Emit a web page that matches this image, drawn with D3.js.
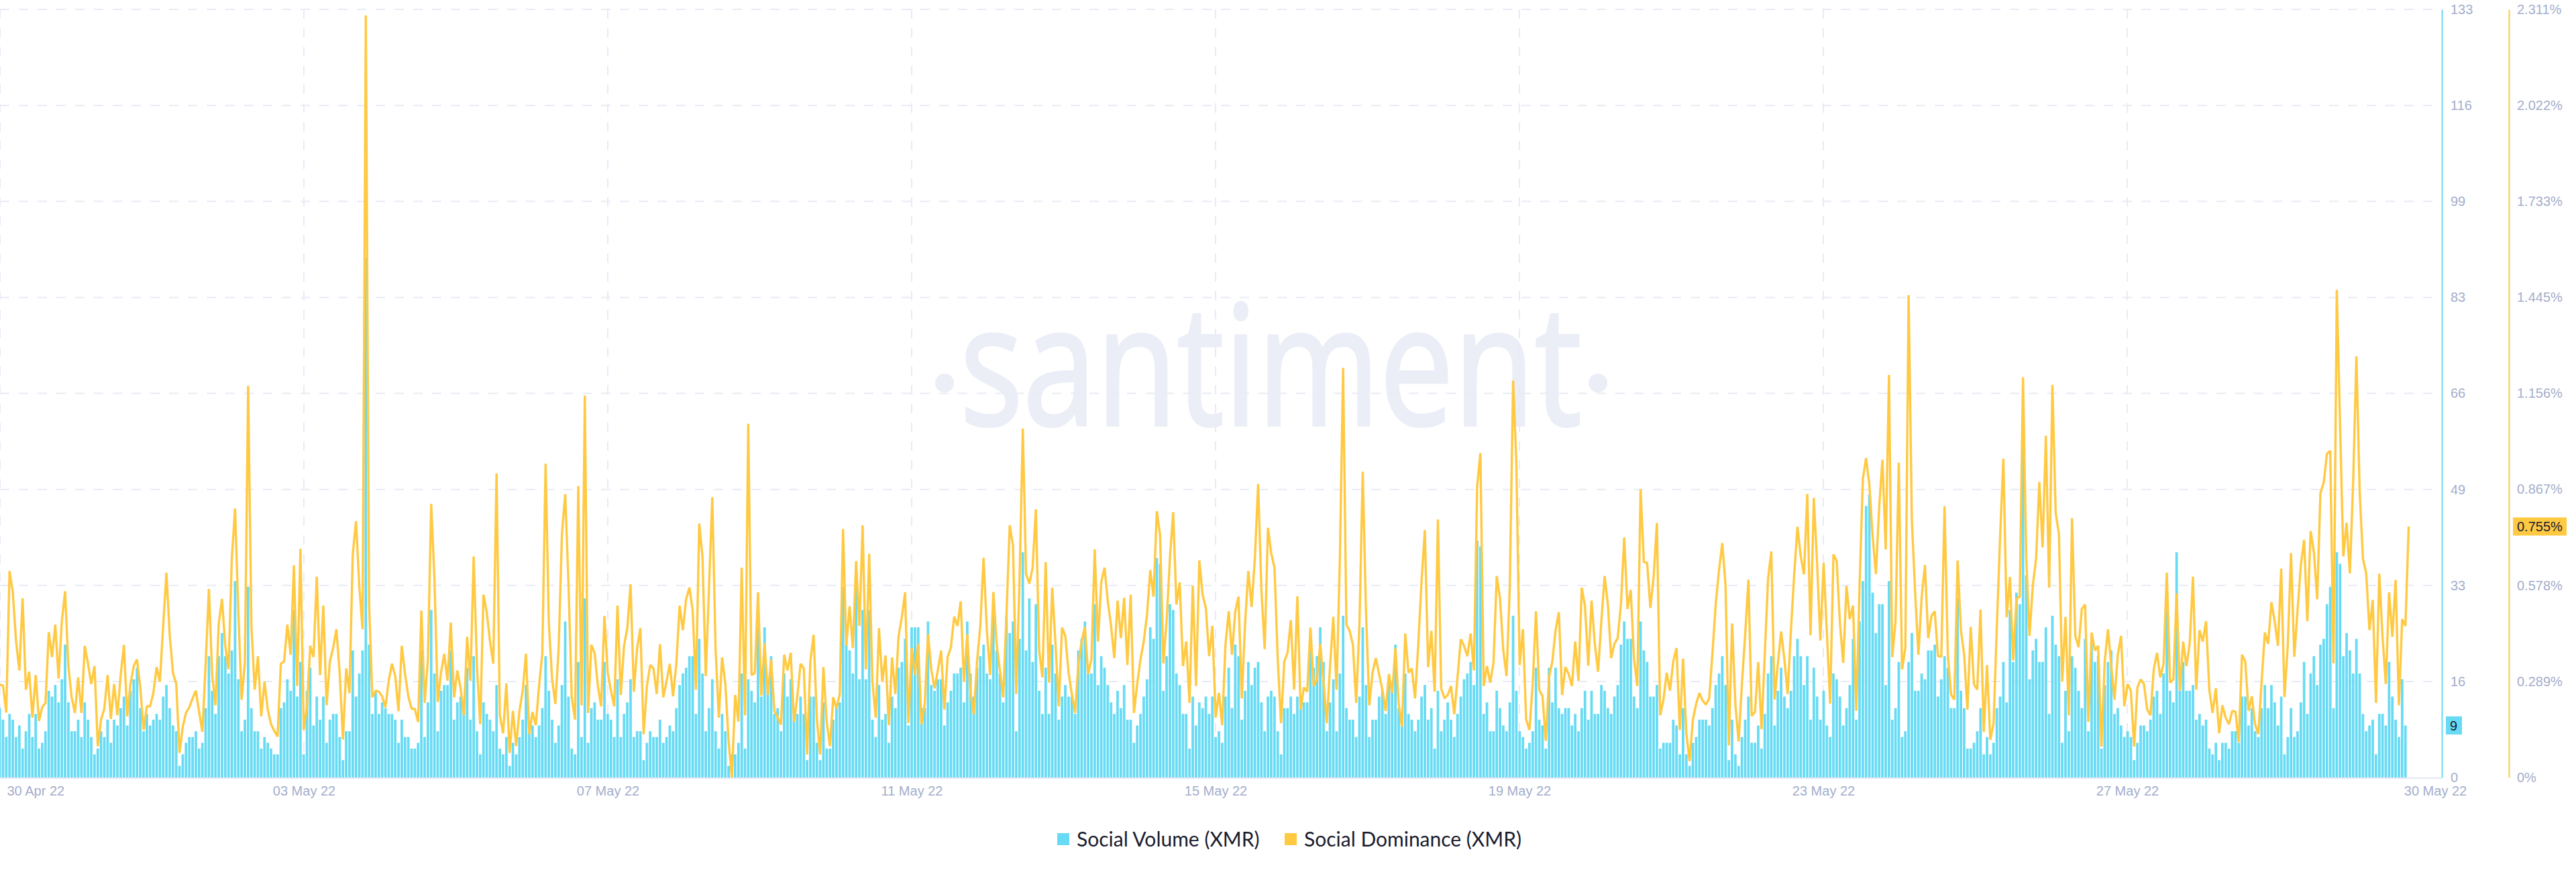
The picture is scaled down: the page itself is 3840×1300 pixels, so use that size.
<!DOCTYPE html>
<html lang="en">
<head>
	<meta charset="utf-8">
	<title>Social Volume and Social Dominance (XMR)</title>
	<script src="https://d3js.org/d3.v7.min.js"></script>
	<style>
		html, body { margin: 0; padding: 0; background: #fff; }
		svg { display: block; }
		.tick-text text, .tick-text-x text { font-family: "Liberation Sans", Arial, sans-serif; font-size: 20px; fill: #a4aecb; }
		.legend-label { font-family: Lato, sans-serif; font-size: 30px; fill: #1a1c2e; }
	</style>
</head>
<body>
	<div id="svg_container"></div>
	<script>
		// hourly values
		var socialVolume = [
			12,10,7,11,10,7,9,5,8,11,7,11,5,6,8,15,14,16,13,17,23,13,8,8,10,7,13,10,7,4,
			5,8,7,10,6,10,9,12,14,9,15,17,19,12,8,11,9,10,11,10,14,16,12,9,8,2,4,6,7,7,
			8,5,6,12,21,15,11,21,25,21,18,22,34,17,8,10,33,12,8,8,5,7,6,5,4,4,12,13,17,15,
			29,14,20,4,15,19,9,14,10,14,6,10,11,11,7,3,8,8,22,14,18,22,90,23,11,15,11,13,12,11,
			11,10,6,10,7,7,5,5,6,22,7,13,
			29,18,8,15,16,16,22,10,13,14,13,19,10,21,8,4,13,11,10,8,16,5,4,7,2,6,4,7,10,16,
			8,9,7,9,12,21,15,10,6,9,16,27,14,5,4,20,7,31,6,12,13,10,10,20,11,10,7,17,7,11,
			13,17,7,8,8,3,6,8,7,7,10,6,7,9,8,12,16,18,19,21,21,11,24,18,8,12,17,8,5,11,
			8,2,4,4,6,18,5,17,15,13,26,14,26,15,21,11,12,8,18,14,17,10,11,14,11,3,14,14,6,3,13,5,5,
			10,12,13,33,23,22,18,33,17,29,17,29,10,7,16,10,11,6,14,12,19,20,24,9,26,26,26,12,12,27,
			16,15,17,17,9,13,15,18,18,19,13,27,18,14,19,21,23,18,17,28,22,18,13,28,25,27,8,24,39,22,
			31,20,30,15,11,19,11,23,18,10,14,16,14,14,11,22,24,27,18,18,30,16,21,19,16,13,11,15,12,16,
			10,10,6,9,11,14,17,26,24,38,37,15,21,30,29,18,16,11,11,5,14,9,13,12,14,11,14,7,8,6,14,19,12,
			23,21,10,15,20,16,19,20,13,8,14,15,14,8,4,12,12,14,11,14,12,13,13,23,19,21,26,20,8,13,
			17,8,18,28,12,10,10,7,14,26,16,7,10,10,14,15,11,17,16,23,12,9,18,11,10,8,10,14,16,10,
			12,5,15,8,10,13,10,7,11,14,17,18,20,16,41,40,11,13,8,8,15,12,9,8,13,28,15,8,7,5,
			6,8,19,10,9,5,19,13,19,12,11,12,12,9,11,8,12,15,10,15,11,11,16,15,12,11,14,16,23,27,24,24,14,12,
			27,22,20,14,14,16,5,6,6,6,10,9,4,12,4,2,6,7,10,10,10,9,12,16,18,21,16,3,10,4,
			2,7,10,14,6,6,9,5,11,18,21,9,15,19,14,12,15,21,24,21,16,21,10,19,14,10,15,9,7,18,
			17,14,9,12,16,24,10,27,34,47,49,32,25,30,30,16,34,10,12,20,7,8,20,25,15,15,18,17,22,22,
			23,14,17,21,19,12,12,31,15,12,5,5,6,8,12,4,7,4,6,12,14,20,13,29,20,32,30,59,35,17,22,24,20,
			20,26,11,28,23,21,6,15,8,21,19,15,12,24,8,24,20,21,5,16,20,22,11,12,9,7,8,7,3,6,
			9,9,8,10,14,15,11,18,29,15,13,39,15,20,15,15,16,10,11,9,10,5,4,6,3,6,6,5,8,8,
			6,14,14,9,12,8,7,12,16,12,16,13,9,14,4,7,12,7,8,13,20,11,18,21,16,23,24,30,33,12,
			39,37,21,25,22,18,24,18,11,8,9,10,4,11,11,9,20,14,10,7,17,9
		];

		var socialDominance = [
			.280,.276,.195,.621,.557,.409,.322,.539,.264,.318,.180,.308,.170,.211,.224,.437,.362,.460,.298,.470,
			.560,.335,.241,.194,.301,.194,.396,.342,.281,.335,.094,.174,.207,.308,.176,.281,.187,.308,.399,.184,
			.281,.335,.355,.271,.143,.214,.214,.254,.332,.288,.456,.616,.429,.315,.281,.074,.153,.195,.211,.238,
			.261,.197,.137,.342,.567,.308,.217,.463,.537,.396,.325,.658,.809,.497,.234,.345,1.178,.456,.264,.365,
			.184,.288,.204,.160,.140,.123,.342,.349,.460,.369,.638,.275,.688,.143,.214,.396,.362,.604,.308,.517,
			.217,.349,.389,.446,.315,.114,.328,.254,.671,.771,.577,.446,2.293,.523,.241,.261,.258,.244,.211,.291,
			.342,.305,.199,.396,.311,.244,.207,.206,.167,.502,.224,.355,
			.823,.597,.227,.315,.372,.291,.466,.241,.322,.268,.187,.423,.291,.665,.335,.160,.550,.497,.409,.342,
			.915,.187,.133,.283,.074,.200,.094,.200,.261,.372,.130,.197,.157,.275,.372,.944,.463,.295,.221,.389,
			.732,.852,.584,.241,.174,.877,.217,1.149,.194,.399,.375,.275,.214,.486,.315,.261,.214,.517,.248,.396,
			.449,.581,.258,.389,.449,.130,.275,.338,.328,.251,.401,.241,.288,.342,.244,.342,.517,.443,.537,.571,
			.503,.264,.764,.665,.305,.571,.843,.389,.180,.361,.281,.106,0,.248,.168,.631,.187,1.064,.308,.314,
			.557,.246,.404,.248,.355,.200,.180,.159,.369,.322,.375,.167,.241,.342,.328,.069,.349,.429,.174,.069,
			.332,.167,.094,
			.241,.207,.251,.747,.396,.515,.389,.651,.456,.759,.325,.673,.288,.180,.449,.288,.367,.157,.361,.251,
			.426,.483,.557,.163,.389,.308,.402,.160,.221,.431,.325,.268,.322,.382,.204,.362,.392,.484,.456,.530,
			.288,.431,.254,.190,.349,.456,.661,.443,.308,.558,.402,.322,.241,.490,.759,.698,.251,.591,1.050,.612,
			.583,.631,.807,.382,.301,.648,.285,.571,.402,.214,.451,.426,.315,.251,.194,.342,.409,.453,.311,.355,
			.686,.409,.587,.631,.530,.456,.359,.532,.419,.540,.338,.550,.194,.281,.355,.409,.490,.624,.544,.801,
			.729,.343,.470,.658,.798,.520,.587,.335,.409,.224,.577,.275,.653,.550,.510,.365,.456,.180,.254,.157,
			.399,.500,.369,
			.500,.544,.238,.463,.621,.513,.658,.883,.564,.386,.751,.675,.631,.355,.163,.349,.375,.473,.264,.545,
			.204,.271,.258,.451,.275,.295,.402,.288,.163,.335,.483,.264,.658,1.232,.460,.441,.399,.224,.463,.920,
			.497,.217,.315,.359,.311,.264,.200,.311,.254,.389,.221,.153,.433,.315,.328,.238,.402,.591,.744,.332,
			.441,.258,.776,.268,.238,.248,.275,.190,.301,.416,.396,.365,.433,.322,.877,.976,.275,.335,.285,.345,
			.606,.537,.382,.305,.577,1.194,.947,.338,.446,.174,.143,.281,.500,.264,.244,.110,.301,.349,.443,.497,
			.248,.332,.311,.275,.409,.291,.571,.515,.336,.532,.402,.318,.470,.606,.520,.359,.402,.419,.523,.722,
			.507,.564,.355,.275,
			.867,.648,.646,.510,.604,.766,.187,.234,.315,.261,.349,.389,.143,.357,.133,.049,.174,.221,.254,.231,
			.219,.238,.375,.523,.624,.705,.577,.096,.463,.221,.108,.281,.429,.595,.185,.197,.347,.145,.369,.597,
			.680,.234,.342,.439,.355,.251,.443,.611,.754,.665,.611,.853,.428,.841,.645,.412,.645,.436,.222,.671,
			.651,.463,.345,.576,.476,.517,.200,.577,.897,.961,.880,.725,.612,.813,.956,.686,1.211,.362,.470,.947,
			.325,.389,1.451,.772,.557,.369,.544,.639,.419,.486,.500,.365,.363,.816,.369,.249,.234,.653,.443,.369,
			.204,.453,.281,.264,.505,.137,.338,.113,.163,.456,.725,.959,.482,.603,.352,.538,.544,1.204,.658,.426,
			.577,.658,.889,
			.692,1.028,.571,1.181,.796,.732,.288,.483,.187,.780,.426,.392,.507,.520,.167,.436,.382,.396,.093,.349,
			.446,.335,.234,.369,.426,.214,.281,.261,.093,.271,.295,.281,.204,.187,.325,.375,.301,.342,.616,.285,
			.295,.554,.261,.409,.335,.402,.604,.264,.443,.409,.470,.264,.194,.268,.133,.217,.180,.160,.200,.198,
			.106,.369,.349,.200,.244,.160,.130,.288,.436,.402,.527,.470,.396,.628,.242,.396,.675,.363,.503,.638,
			.715,.470,.741,.678,.536,.856,.887,.974,.983,.343,1.467,1.062,.665,.766,.614,.887,1.267,.860,.658,.614,
			.443,.534,.224,.613,.423,.281,.557,.423,.594,.217,.476,.456,.755
		];

		var dateTicks = ["30 Apr 22", "03 May 22", "07 May 22", "11 May 22", "15 May 22", "19 May 22", "23 May 22", "27 May 22", "30 May 22"];
		var volumeTicks = [0, 16.625, 33.25, 49.875, 66.5, 83.125, 99.75, 116.375, 133];
		var dominanceTicks = [0, 0.289, 0.578, 0.867, 1.156, 1.445, 1.733, 2.022, 2.311];
		var legendNames = ["Social Volume (XMR)", "Social Dominance (XMR)"];

		var blue = "#68dbf4";
		var yellow = "#ffc942";
		var gridColor = "#e8ebf5";
		var top_y = 14;
		var base_y = 1159;

		var svgContainer = d3.select("#svg_container").append("svg")
			.attr("width", 3840)
			.attr("height", 1300);

		var x = d3.scaleLinear().domain([0, socialDominance.length - 1]).range([-0.4, 3590.6]);
		var xLabels = d3.scalePoint().domain(dateTicks).range([0, 3624]);
		var yVolume = d3.scaleLinear().domain([0, 133]).range([base_y, top_y]);
		var yDominance = d3.scaleLinear().domain([0, 2.311]).range([base_y, top_y]);

		// watermark
		var mark = svgContainer.append("g").attr("fill", "#ebeef6");
		mark.append("text")
			.attr("transform", "translate(1431,634) scale(0.79,1)")
			.attr("font-family", "Open Sans")
			.attr("font-size", 249)
			.attr("stroke", "#ebeef6")
			.attr("stroke-width", 4)
			.text("santiment");
		mark.selectAll("circle").data([1408, 2382]).enter().append("circle")
			.attr("cx", function(d) { return d; })
			.attr("cy", 571)
			.attr("r", 14);

		// grid
		var grid = svgContainer.append("g")
			.attr("stroke", gridColor)
			.attr("stroke-width", 2)
			.attr("stroke-dasharray", "14,14");
		grid.selectAll("line.h").data(volumeTicks.slice(1)).enter().append("line")
			.attr("class", "h")
			.attr("x1", 0).attr("x2", 3626)
			.attr("y1", function(d) { return yVolume(d); })
			.attr("y2", function(d) { return yVolume(d); });
		grid.selectAll("line.v").data(dateTicks.slice(0, 8)).enter().append("line")
			.attr("class", "v")
			.attr("x1", function(d) { return xLabels(d); })
			.attr("x2", function(d) { return xLabels(d); })
			.attr("y1", top_y).attr("y2", base_y);

		// bars
		svgContainer.append("g").selectAll("rect").data(socialVolume).enter().append("rect")
			.attr("x", function(d, i) { return x(i) - 1.9; })
			.attr("y", function(d) { return yVolume(d); })
			.attr("width", 3.8)
			.attr("height", function(d) { return base_y - yVolume(d); })
			.attr("fill", blue);

		// baseline and the two axis lines
		svgContainer.append("line")
			.attr("x1", 0).attr("x2", 3640)
			.attr("y1", base_y + 1).attr("y2", base_y + 1)
			.attr("stroke", "#e3e7f3").attr("stroke-width", 2);

		// dominance line
		var line = d3.line()
			.x(function(d, i) { return x(i); })
			.y(function(d) { return yDominance(d); });
		svgContainer.append("path")
			.attr("d", line(socialDominance))
			.attr("fill", "none")
			.attr("stroke", yellow)
			.attr("stroke-width", 3.4)
			.attr("stroke-linejoin", "miter")
			.attr("stroke-miterlimit", 1);

		// axes
		var axisVolume = d3.axisRight(yVolume)
			.tickValues(volumeTicks)
			.tickSize(0)
			.tickPadding(13)
			.tickFormat(function(d) { return Math.floor(d); });
		var gVolume = svgContainer.append("g")
			.attr("class", "tick-text")
			.attr("transform", "translate(3640,0)")
			.call(axisVolume);
		gVolume.select(".domain").attr("stroke", blue).attr("stroke-width", 2);

		var axisDominance = d3.axisRight(yDominance)
			.tickValues(dominanceTicks)
			.tickSize(0)
			.tickPadding(12)
			.tickFormat(function(d) { return d === 0 ? "0%" : d3.format(".3f")(d) + "%"; });
		var gDominance = svgContainer.append("g")
			.attr("class", "tick-text")
			.attr("transform", "translate(3740,0)")
			.call(axisDominance);
		gDominance.select(".domain").attr("stroke", yellow).attr("stroke-width", 2);

		var axisDate = d3.axisBottom(xLabels).tickSize(0).tickPadding(0);
		var gDate = svgContainer.append("g")
			.attr("class", "tick-text-x")
			.attr("transform", "translate(0," + (base_y + 13) + ")")
			.call(axisDate);
		gDate.select(".domain").remove();
		gDate.selectAll("text").attr("dy", "0.71em");
		gDate.selectAll("text").filter(function(d) { return d === dateTicks[0]; })
			.attr("text-anchor", "start").attr("x", 10);
		gDate.selectAll("text").filter(function(d) { return d === dateTicks[8]; })
			.attr("x", 6);

		// current value badges
		var last_volume = socialVolume[socialVolume.length - 1];
		var last_dominance = socialDominance[socialDominance.length - 1];
		var badges = [
			{ x: 3646, w: 24, y: yVolume(last_volume), fill: blue, label: last_volume },
			{ x: 3746, w: 80, y: yDominance(last_dominance), fill: yellow, label: last_dominance + "%" }
		];
		var badge = svgContainer.append("g").selectAll("g").data(badges).enter().append("g");
		badge.append("rect")
			.attr("x", function(d) { return d.x; })
			.attr("y", function(d) { return d.y - 13.5; })
			.attr("width", function(d) { return d.w; })
			.attr("height", 27)
			.attr("fill", function(d) { return d.fill; });
		badge.append("text")
			.attr("x", function(d) { return d.x + 6; })
			.attr("y", function(d) { return d.y; })
			.attr("dy", "0.35em")
			.attr("font-family", "Liberation Sans")
			.attr("font-size", 20)
			.attr("fill", "#1a1c2e")
			.text(function(d) { return d.label; });

		// legend
		var legendColors = d3.scaleOrdinal().domain(legendNames).range([blue, yellow]);
		var legendX = d3.scaleOrdinal().domain(legendNames).range([1576, 1915]);
		var legend = svgContainer.append("g").selectAll("g").data(legendNames).enter().append("g")
			.attr("transform", function(d) { return "translate(" + legendX(d) + ",1242)"; });
		legend.append("rect")
			.attr("width", 18).attr("height", 18)
			.attr("fill", function(d) { return legendColors(d); });
		legend.append("text")
			.attr("class", "legend-label")
			.attr("x", 29).attr("y", 9)
			.attr("dy", "0.35em")
			.text(function(d) { return d; });
	</script>
</body>
</html>
